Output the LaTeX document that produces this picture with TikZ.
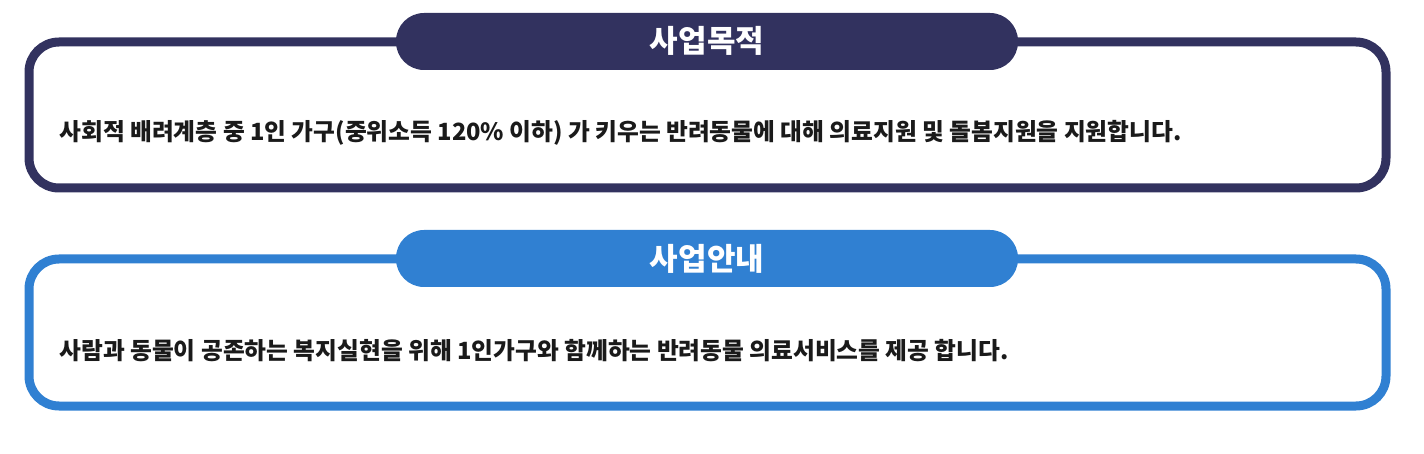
\documentclass[tikz,border=0pt]{standalone}
\usepackage{fontspec}
\newfontfamily\kr{Noto Sans CJK KR}
\definecolor{navy}{HTML}{32325F}
\definecolor{sky}{HTML}{3080D2}
\definecolor{txt}{HTML}{1A1A1A}
\tikzset{
  frame/.style={line width=9pt, rounded corners=30pt},
  pill/.style={rounded corners=28pt},
  title/.style={text=white, font=\kr\fontsize{31}{34}\selectfont\bfseries},
  body/.style={text=txt, anchor=west, font=\kr\fontsize{23.7}{26}\selectfont\bfseries}
}
\begin{document}
\begin{tikzpicture}[x=1pt,y=-1pt]
\useasboundingbox (0,0) rectangle (1424,454);
\draw[frame, navy] (29,42) rectangle (1386,188);
\fill[pill, navy] (396,13) rectangle (1018,70);
\node[title] (t1) at (707,41) {사업목적};
\node[body] (b1) at (56,133) {사회적 배려계층 중 1인 가구(중위소득 120\% 이하) 가 키우는 반려동물에 대해 의료지원 및 돌봄지원을 지원합니다.};
\draw[frame, sky] (29,259) rectangle (1386,406);
\fill[pill, sky] (396,230) rectangle (1018,287);
\node[title] (t2) at (707,259) {사업안내};
\node[body] (b2) at (56,351) {사람과 동물이 공존하는 복지실현을 위해 1인가구와 함께하는 반려동물 의료서비스를 제공 합니다.};
\end{tikzpicture}
\end{document}
